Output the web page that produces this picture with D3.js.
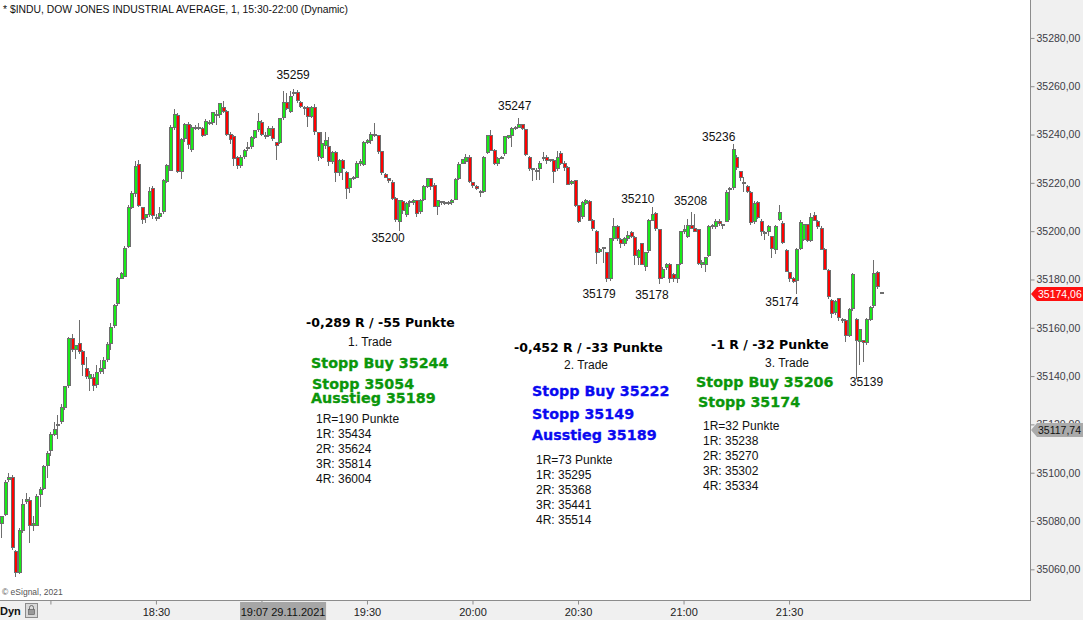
<!DOCTYPE html>
<html>
<head>
<meta charset="utf-8">
<script src="https://cdn.jsdelivr.net/npm/d3@7"></script>
<style>
  body { margin: 0; background: #fff; }
  text { font-family: "Liberation Sans", Arial, sans-serif; }
</style>
</head>
<body>
<div id="chart"></div>
<script>
// 1-minute bars of the Dow, first visible bar at 17:46 (29.11.2021)
var firstBar = "17:46";

var opens = [
  35079, 35082.5, 35097, 35098, 35067.5, 35058.5, 35076, 35088, 35088.5, 35078,
  35078.3, 35091, 35093.6, 35103, 35109, 35116, 35119.5, 35121, 35127, 35136,
  35155.4, 35151, 35153.3, 35150, 35143.3, 35139, 35139.6, 35136.5, 35142, 35143.3,
  35147, 35153.3, 35161, 35170, 35180.6, 35181.4, 35193.5, 35210, 35215.4, 35227.8,
  35209.6, 35205.5, 35206.7, 35217.5, 35205.5, 35205.9, 35208, 35220.4, 35225.3, 35243.1,
  35247.7, 35224.9, 35238.2, 35244, 35234, 35243.1, 35242.7, 35242.3, 35240.2, 35244.8,
  35244.8, 35248, 35248.1, 35251.4, 35249.4, 35240.2, 35239, 35230.3, 35227, 35231.1,
  35234.1, 35234.9, 35238.6, 35241.9, 35244.8, 35239.4, 35239.8, 35242.7, 35236.5, 35236.5,
  35246.9, 35253.1, 35249.4, 35256.8, 35257.6, 35253.1, 35251.4, 35251, 35247.3, 35251,
  35240.7, 35230.7, 35235.5, 35234.9, 35228.7, 35232.4, 35224.1, 35229.1, 35224.1, 35217.9,
  35221.6, 35222.4, 35228.2, 35227.4, 35236.9, 35237.4, 35240.2, 35239.4, 35232.8, 35223.3,
  35221.6, 35220, 35213.7, 35204.2, 35212.1, 35207.1, 35211.7, 35211.7, 35212.5, 35208,
  35213.3, 35218.3, 35221.6, 35219.1, 35210.4, 35212.1, 35211.7, 35211.9, 35211.7, 35213.3,
  35221.6, 35228.2, 35228.7, 35230.7, 35220, 35218.3, 35216.6, 35216.6, 35232.4, 35239.4,
  35233.2, 35228.2, 35230.3, 35232, 35238.6, 35239.4, 35242.7, 35243.1, 35244, 35241.9,
  35230.7, 35225.8, 35225.3, 35225.8, 35230.3, 35230.7, 35229.5, 35229.1, 35225.8, 35232,
  35228.2, 35226.2, 35219.9, 35220.8, 35210.8, 35205.9, 35211.3, 35212.1, 35204.6, 35200,
  35191.4, 35193, 35191, 35180.2, 35196.8, 35201.8, 35196.4, 35194.7, 35196.8, 35199.3,
  35197.2, 35189.3, 35194.7, 35185.2, 35192.2, 35204.6, 35207.5, 35200.5, 35181, 35184.8,
  35186.4, 35181.9, 35180.6, 35186.8, 35199.7, 35197.6, 35202.2, 35201.3, 35200.5, 35186.4,
  35186.4, 35190.1, 35201.8, 35201.8, 35204.2, 35202.6, 35204.2, 35217.5, 35217.9, 35230.7,
  35224.5, 35220, 35218.3, 35215.8, 35203.8, 35211.7, 35204.2, 35199.3, 35199.7, 35197.6,
  35192.6, 35205, 35203, 35191.8, 35182.7, 35180.2, 35179.4, 35193, 35196.4, 35202.6,
  35196, 35206.3, 35203.8, 35201.3, 35192.6, 35183.9, 35171.5, 35166.5, 35172, 35163.2,
  35163.2, 35157, 35167.8, 35163.6, 35154.4, 35154.9, 35153.7, 35163.6, 35169.4, 35182.7, 35174.5
];

var highs = [
  35082, 35097, 35100, 35099, 35068, 35077, 35089, 35091.5, 35090, 35082,
  35091, 35094, 35103, 35109, 35117, 35121, 35124, 35128.5, 35136, 35156,
  35157.5, 35153, 35163.2, 35151, 35148, 35142, 35141, 35144.6, 35146.7, 35148,
  35154, 35162, 35170, 35181, 35183, 35194, 35211, 35216.6, 35229.1, 35229.5,
  35210, 35207, 35218.3, 35218.7, 35207, 35210, 35221.5, 35228, 35244, 35250.6,
  35249, 35238.5, 35244.8, 35245, 35244, 35244, 35244.8, 35243, 35246.5, 35246,
  35249.4, 35250, 35253, 35253.9, 35250, 35241, 35240, 35231, 35231.5, 35234,
  35237, 35239.4, 35242, 35249, 35246, 35241, 35243.5, 35243.5, 35237, 35247,
  35258, 35257.2, 35258, 35259, 35258.5, 35254, 35252, 35252, 35252, 35252.5,
  35241, 35241, 35241, 35239, 35233, 35233, 35230, 35230, 35225, 35222,
  35223, 35229, 35230, 35237.5, 35238, 35241, 35244.8, 35240, 35233, 35224,
  35222, 35221, 35214, 35213, 35213, 35212, 35213, 35213.5, 35213, 35213.5,
  35219, 35222, 35222, 35220, 35213, 35212.5, 35212.5, 35212.3, 35213.5, 35222,
  35228.5, 35230, 35232, 35231.6, 35220.5, 35219, 35217, 35231, 35240, 35241.9,
  35234, 35230.5, 35231, 35239.5, 35240, 35243, 35243.5, 35247, 35244.5, 35242,
  35231, 35226, 35226, 35229, 35232.8, 35231.5, 35230, 35230, 35233.2, 35233,
  35229, 35227, 35221, 35221, 35211, 35212.5, 35213.3, 35213, 35205, 35200.5,
  35193, 35193.5, 35191.5, 35197, 35205.5, 35202.5, 35197, 35197.5, 35200, 35200,
  35198, 35192.5, 35195, 35191.5, 35205, 35210, 35208, 35201, 35185, 35187,
  35187, 35182.5, 35186.5, 35200, 35202.6, 35205, 35208, 35207.1, 35201, 35188,
  35189.5, 35202.5, 35203, 35205, 35205, 35203, 35217, 35218.3, 35236, 35231.5,
  35225, 35222.4, 35219, 35216.5, 35212.5, 35212.5, 35205, 35200, 35202.5, 35198,
  35202.5, 35210.8, 35204, 35192.5, 35183, 35181, 35193, 35204.6, 35203, 35203,
  35207.5, 35208, 35204.5, 35202, 35193, 35184.3, 35172, 35171.5, 35172.5, 35164,
  35163.5, 35168, 35182.7, 35164, 35159.5, 35155, 35164, 35169, 35188.1, 35183.5, 35174.5
];

var lows = [
  35073, 35082, 35096, 35068, 35057, 35058, 35075, 35087, 35071, 35076,
  35078, 35086, 35093, 35098, 35107, 35115, 35114, 35120, 35126, 35135,
  35150, 35147, 35149, 35140, 35139, 35134, 35134, 35135, 35141, 35141,
  35146, 35151, 35160, 35169, 35180, 35181, 35193, 35209, 35214, 35210,
  35203, 35203.4, 35206, 35205, 35204, 35205, 35207, 35220, 35225, 35242,
  35224, 35221.6, 35237, 35234, 35232.8, 35242, 35242, 35239, 35239.5, 35244,
  35244, 35244, 35247, 35249, 35239.5, 35236, 35227, 35225.8, 35226, 35230,
  35233, 35234, 35238, 35241, 35239.5, 35238, 35239, 35237.5, 35229.5, 35236,
  35246, 35250, 35249, 35256, 35253, 35251, 35248, 35243.1, 35247, 35240,
  35229, 35230, 35234, 35227, 35228, 35220.4, 35223, 35221.2, 35213.3, 35216,
  35221, 35222, 35227, 35227, 35236, 35236, 35239, 35232, 35223.3, 35222,
  35220, 35213, 35203.8, 35200, 35207, 35206, 35210, 35211, 35206, 35207,
  35212.5, 35218, 35217, 35210, 35206.7, 35211, 35211, 35211, 35211, 35213,
  35221, 35228, 35228, 35220, 35218, 35217, 35214.2, 35216, 35232, 35233,
  35227.5, 35227, 35230, 35231, 35238, 35235, 35242, 35243, 35242, 35231,
  35225, 35220.8, 35221, 35221.2, 35229, 35228, 35228.5, 35220, 35225, 35227.5,
  35225, 35219, 35219, 35210, 35203.4, 35205, 35211, 35204, 35200, 35186.4,
  35191, 35186.8, 35179, 35179.5, 35196, 35196, 35193, 35194, 35196, 35197,
  35186, 35186, 35186, 35183.5, 35191, 35204, 35200, 35178, 35180, 35184,
  35178.5, 35179, 35178.5, 35186, 35199, 35197, 35201, 35199.5, 35186, 35184.8,
  35183, 35189.5, 35201, 35201, 35202, 35201, 35204, 35204.6, 35217, 35225.5,
  35220.8, 35216.2, 35216, 35202.6, 35203, 35205, 35198, 35196.4, 35198, 35188.9,
  35190.6, 35204, 35194.5, 35183, 35179, 35178.5, 35174, 35192, 35196, 35195.5,
  35195.5, 35204, 35201, 35192, 35184, 35172, 35164, 35165.3, 35163, 35162,
  35154.1, 35156, 35167, 35139, 35144.6, 35145.8, 35153, 35163, 35168, 35176, 35174
];

var closes = [
  35082, 35096, 35098, 35069, 35058.5, 35076, 35087, 35089, 35078.3, 35079,
  35090, 35093, 35102.4, 35108, 35116, 35117.7, 35120, 35127, 35135.5, 35155.4,
  35151.2, 35152.5, 35150, 35144.6, 35140, 35140.5, 35136.3, 35141.3, 35143.3, 35146.3,
  35153, 35160.3, 35169.4, 35180.6, 35182.3, 35193, 35210, 35215.4, 35226.6, 35210.8,
  35205, 35206.7, 35216.6, 35206.3, 35205.1, 35207.5, 35220.8, 35227, 35243.1, 35248.5,
  35224.9, 35237.8, 35244, 35235.7, 35243.1, 35242.7, 35243.1, 35239.8, 35245.2, 35244.4,
  35249, 35248.5, 35252.7, 35249.4, 35240.2, 35238, 35229.9, 35227, 35230.7, 35233.6,
  35234.5, 35238.6, 35241.5, 35245.2, 35240.2, 35239, 35242.7, 35238.2, 35235.3, 35246.5,
  35253.1, 35250.6, 35255.6, 35257.6, 35253.9, 35251.8, 35251.2, 35247.3, 35251.4, 35241.1,
  35231.1, 35236.1, 35237.5, 35228.7, 35232.4, 35224.1, 35229.1, 35225.8, 35217.5, 35221.6,
  35222.4, 35228.2, 35228.8, 35236.9, 35237.4, 35240.2, 35239.4, 35232.8, 35224.1, 35222.4,
  35220.8, 35213.7, 35205, 35212.5, 35208.4, 35211.3, 35212.1, 35212.9, 35207.5, 35212.9,
  35218.3, 35221.6, 35218.3, 35210.4, 35212.5, 35211.7, 35211.9, 35211.5, 35212.9, 35221.2,
  35227.8, 35229.5, 35230.7, 35220.4, 35219.1, 35217.5, 35216.6, 35230.7, 35239.4, 35233.2,
  35228.2, 35229.9, 35230.7, 35239, 35239.4, 35242.3, 35243.1, 35244, 35242.3, 35231.6,
  35225.8, 35225.6, 35225.1, 35228.2, 35230.5, 35229.1, 35229.1, 35224.5, 35230.7, 35228.2,
  35226.2, 35219.5, 35220.4, 35210.8, 35204.2, 35211.7, 35212.5, 35204.6, 35200.9, 35191,
  35192.6, 35193.1, 35180.2, 35196.8, 35201.8, 35196.8, 35194.7, 35196.8, 35198.4, 35197.6,
  35190.1, 35191.8, 35186.4, 35191, 35204.6, 35206.7, 35200.9, 35180.2, 35184.3, 35186.4,
  35180.6, 35180.6, 35186, 35199.7, 35200.5, 35202.2, 35201.3, 35200, 35186.8, 35187.2,
  35188.9, 35201.8, 35202.2, 35204.2, 35203, 35202.2, 35216.2, 35217.6, 35234, 35226.2,
  35222.4, 35220.1, 35216.6, 35203.4, 35211.3, 35205.5, 35199.7, 35199.4, 35201.8, 35193,
  35201.8, 35207.9, 35195.1, 35183.5, 35180.2, 35179, 35192.6, 35203.4, 35202.6, 35196,
  35205.5, 35204.6, 35201.8, 35192.6, 35184.3, 35172.8, 35166.1, 35170.7, 35164.1, 35163.3,
  35157, 35167.4, 35181.9, 35154.9, 35159.1, 35153.7, 35163.6, 35168.6, 35182.3, 35176.9, 35174.06
];

// axis ticks
var priceTicks = [35060, 35080, 35100, 35120, 35140, 35160, 35180, 35200, 35220, 35240, 35260, 35280];
var timeTicks = ["18:00", "18:30", "19:00", "19:30", "20:00", "20:30", "21:00", "21:30"];
// 18:00 has no label, 19:00 sits under the cursor box
var timeLabels = ["18:30", "19:30", "20:00", "20:30", "21:00", "21:30"];

// swing high / low labels
var pivotValues = [35259, 35247, 35236, 35200, 35210, 35208, 35179, 35178, 35174, 35139];
var pivotTimes = ["19:09", "20:12", "21:10", "19:36", "20:47", "21:02", "20:36", "20:51", "21:28", "21:52"];

// price tags on the right axis
var lastPrice = 35174.06;
var refPrice = 35117.74;
var cursorLabel = "19:07 29.11.2021";

// trade notes
var tradeResults = ["-0,289 R / -55 Punkte", "-0,452 R / -33 Punkte", "-1 R / -32 Punkte"];
var tradeNames = ["1. Trade", "2. Trade", "3. Trade"];
var tradeOrders = [
  ["Stopp Buy 35244", "Stopp 35054", "Ausstieg 35189"],
  ["Stopp Buy 35222", "Stopp 35149", "Ausstieg 35189"],
  ["Stopp Buy 35206", "Stopp 35174"]
];
var tradeTargets = [
  ["1R=190 Punkte", "1R: 35434", "2R: 35624", "3R: 35814", "4R: 36004"],
  ["1R=73 Punkte", "1R: 35295", "2R: 35368", "3R: 35441", "4R: 35514"],
  ["1R=32 Punkte", "1R: 35238", "2R: 35270", "3R: 35302", "4R: 35334"]
];

// ---------------------------------------------------------------

var svgWidth = 1083, svgHeight = 620;
var plotW = 1030, plotH = 600;

var day = [2021, 10, 29];
function toDate(hm) {
  var p = hm.split(":");
  return new Date(day[0], day[1], day[2], +p[0], +p[1]);
}
var t0 = toDate(firstBar);
var bars = opens.map(function(o, i) {
  return {
    t: new Date(t0.getTime() + i * 60000),
    o: o, h: highs[i], l: lows[i], c: closes[i]
  };
});

var svg = d3.select("#chart").append("svg")
  .attr("width", svgWidth)
  .attr("height", svgHeight)
  .style("display", "block");

// scales
var x = d3.scaleTime()
  .domain([new Date(2021, 10, 29, 17, 45, 40), new Date(2021, 10, 29, 22, 38, 30)])
  .range([0, plotW]);
var y = d3.scaleLinear()
  .domain([35047.3, 35295.7])
  .range([plotH, 0]);

// backgrounds
svg.append("rect").attr("width", svgWidth).attr("height", svgHeight).attr("fill", "#f0f0f0");
svg.append("rect").attr("width", plotW).attr("height", plotH).attr("fill", "#fff");

// candles
var plot = svg.append("g").attr("shape-rendering", "crispEdges");
var candle = plot.selectAll("g.bar").data(bars).enter().append("g").attr("class", "bar");

candle.append("line")
  .attr("x1", d => Math.round(x(d.t)) + 0.5)
  .attr("x2", d => Math.round(x(d.t)) + 0.5)
  .attr("y1", d => y(Math.max(d.h, d.o, d.c)))
  .attr("y2", d => y(Math.min(d.l, d.o, d.c)))
  .attr("stroke", "#6e6e6e")
  .attr("stroke-width", 1);

candle.append("rect")
  .attr("x", d => Math.round(x(d.t)) - 1)
  .attr("width", 3)
  .attr("y", d => y(Math.max(d.o, d.c)))
  .attr("height", d => Math.max(1, y(Math.min(d.o, d.c)) - y(Math.max(d.o, d.c))))
  .attr("fill", d => d.c > d.o + 0.25 ? "#18ea18" : (d.c < d.o - 0.25 ? "#ff0000" : "#6e6e6e"))
  .attr("stroke", "#6e6e6e")
  .attr("stroke-width", 1);

// frame lines
svg.append("line").attr("x1", plotW + 0.5).attr("x2", plotW + 0.5).attr("y1", 0).attr("y2", plotH)
  .attr("stroke", "#8c8c8c");
svg.append("line").attr("x1", 0).attr("x2", plotW + 1).attr("y1", plotH + 0.5).attr("y2", plotH + 0.5)
  .attr("stroke", "#8c8c8c");

// right price axis
var yAxis = d3.axisRight(y)
  .tickValues(priceTicks)
  .tickSize(4)
  .tickPadding(2)
  .tickFormat(d => d.toFixed(2).replace(".", ","));
var yAxisG = svg.append("g")
  .attr("transform", `translate(${plotW + 0.5},0)`)
  .call(yAxis);
yAxisG.select(".domain").remove();
yAxisG.selectAll("line").attr("stroke", "#8c8c8c");
yAxisG.selectAll("text")
  .attr("fill", "#3c3c46")
  .style("font-family", "'Liberation Sans', Arial, sans-serif")
  .style("font-size", "10.5px");

// bottom time axis
var xAxis = d3.axisBottom(x)
  .tickValues(timeTicks.map(toDate))
  .tickSize(4)
  .tickPadding(4)
  .tickFormat(d => {
    var s = d3.timeFormat("%H:%M")(d);
    return timeLabels.indexOf(s) >= 0 ? s : "";
  });
var xAxisG = svg.append("g")
  .attr("transform", `translate(0,${plotH + 0.5})`)
  .call(xAxis);
xAxisG.select(".domain").remove();
xAxisG.selectAll("line").attr("stroke", "#8c8c8c");
xAxisG.selectAll("text")
  .attr("fill", "#222")
  .style("font-family", "'Liberation Sans', Arial, sans-serif")
  .style("font-size", "11px");

// cursor time box
var cx = x(toDate("19:07")) - 3;
svg.append("rect").attr("x", cx - 43).attr("y", 602).attr("width", 86).attr("height", 18).attr("fill", "#a6a6a6");
svg.append("text").attr("x", cx).attr("y", 616).attr("text-anchor", "middle")
  .style("font-size", "11px").attr("fill", "#111").text(cursorLabel);

// Dyn + lock
svg.append("text").attr("x", 0).attr("y", 615).style("font-size", "11px").style("font-weight", "bold")
  .attr("fill", "#111").text("Dyn");
svg.append("rect").attr("x", 25.5).attr("y", 603.5).attr("width", 12).attr("height", 14)
  .attr("fill", "#d8d8d8").attr("stroke", "#8c8c8c");
svg.append("rect").attr("x", 28.5).attr("y", 609.5).attr("width", 6).attr("height", 5)
  .attr("fill", "#9a9a9a").attr("stroke", "#555").attr("stroke-width", 0.6);
svg.append("path").attr("d", "M29.5,609.5 v-2 a2,2 0 0 1 4,0 v2")
  .attr("fill", "none").attr("stroke", "#555").attr("stroke-width", 0.8);

// price tags
function priceTag(v, fill, color) {
  var ty = Math.round(y(v));
  svg.append("path")
    .attr("d", `M${plotW + 1},${ty} L${plotW + 7},${ty - 7} L${svgWidth},${ty - 7} L${svgWidth},${ty + 7} L${plotW + 7},${ty + 7} Z`)
    .attr("fill", fill);
  svg.append("text").attr("x", plotW + 8).attr("y", ty + 4)
    .style("font-size", "10.5px").attr("fill", color)
    .text(v.toFixed(2).replace(".", ","));
}
priceTag(refPrice, "#aaaaaa", "#111");
priceTag(lastPrice, "#ff1010", "#fff");

// header and copyright
svg.append("text").attr("x", 3).attr("y", 13)
  .style("font-size", "11.5px").attr("fill", "#111")
  .attr("textLength", 345).attr("lengthAdjust", "spacingAndGlyphs")
  .text("* $INDU, DOW JONES INDUSTRIAL AVERAGE, 1, 15:30-22:00 (Dynamic)");
svg.append("text").attr("x", 2).attr("y", 595)
  .style("font-size", "8.5px").attr("fill", "#555").text("\u00a9 eSignal, 2021");

// pivot labels
var pivotDy = [-10, -8, -3, 11, -4, -7, 16, 15, 12, 7];
svg.selectAll("text.pivot").data(pivotValues).enter().append("text")
  .attr("class", "pivot")
  .attr("x", (d, i) => x(toDate(pivotTimes[i])))
  .attr("y", (d, i) => y(d) + pivotDy[i])
  .attr("text-anchor", "middle")
  .style("font-size", "12px")
  .attr("fill", "#111")
  .text(d => d);

// trade notes
var notes = [
  { rx: 306, ry: 327, nx: 348, ny: 346, ox: [311, 312, 311], oy: [368, 389, 403], color: "#0b960b", tx: 316, ty: 423 },
  { rx: 514, ry: 352, nx: 564, ny: 369, ox: [532, 532, 532], oy: [396, 419, 440], color: "#0a0af0", tx: 536, ty: 464 },
  { rx: 711, ry: 349, nx: 765, ny: 367, ox: [696, 698], oy: [387, 407], color: "#0b960b", tx: 703, ty: 430 }
];

notes.forEach(function(n, i) {
  var g = svg.append("g");
  g.append("text").attr("x", n.rx).attr("y", n.ry)
    .style("font-family", "'DejaVu Sans', Verdana, sans-serif")
    .style("font-size", "12.5px").style("font-weight", "bold")
    .attr("fill", "#000").text(tradeResults[i]);
  g.append("text").attr("x", n.nx).attr("y", n.ny)
    .style("font-size", "12px").attr("fill", "#111").text(tradeNames[i]);
  tradeOrders[i].forEach(function(s, k) {
    g.append("text").attr("x", n.ox[k]).attr("y", n.oy[k])
      .style("font-family", "'DejaVu Sans', Verdana, sans-serif")
      .style("font-size", "14.3px").style("font-weight", "bold")
      .attr("fill", n.color).attr("stroke", n.color).attr("stroke-width", 0.3)
      .text(s);
  });
  tradeTargets[i].forEach(function(s, k) {
    g.append("text").attr("x", n.tx).attr("y", n.ty + k * 15)
      .style("font-size", "12px").attr("fill", "#111").text(s);
  });
});
</script>
</body>
</html>
